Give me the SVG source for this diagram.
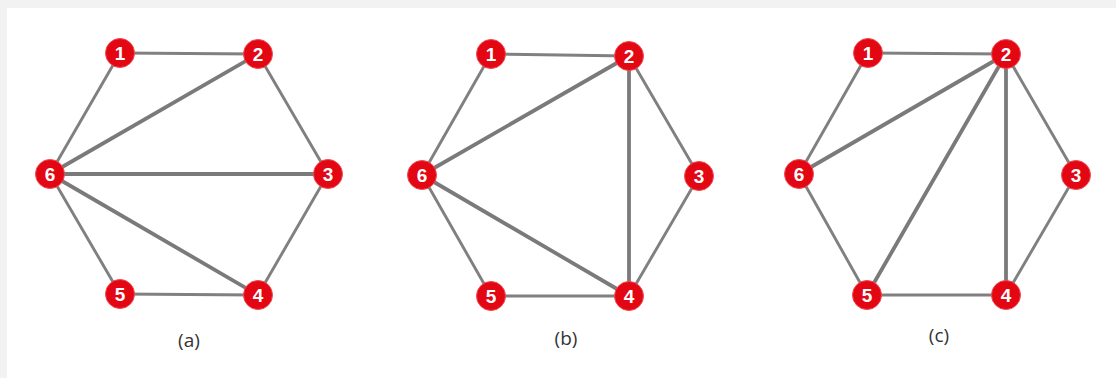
<svg xmlns="http://www.w3.org/2000/svg" width="1116" height="378" viewBox="0 0 1116 378">
<style>
.e{stroke:#808080;stroke-width:2.9;fill:none;stroke-linecap:round}
.d{stroke:#7a7a7a;stroke-width:3.8;fill:none;stroke-linecap:round}
.n circle{fill:#e30613;stroke:#f04a52;stroke-width:1}
.n text{fill:#ffffff;font-family:"Liberation Sans",Arial,sans-serif;font-weight:bold;font-size:19px;text-anchor:middle}
.cap{fill:#333333;font-family:"Open Sans","Liberation Sans",sans-serif;font-size:19px;text-anchor:middle}
</style>
<rect x="0" y="0" width="1116" height="378" fill="#f2f2f2"/>
<rect x="7" y="8" width="1109" height="370" fill="#ffffff"/>
<g id="connectors">
<line class="e" x1="120" y1="53" x2="258" y2="54"/>
<line class="e" x1="258" y1="54" x2="328" y2="174"/>
<line class="e" x1="328" y1="174" x2="258" y2="295"/>
<line class="e" x1="258" y1="295" x2="120" y2="294"/>
<line class="e" x1="120" y1="294" x2="50" y2="174"/>
<line class="e" x1="50" y1="174" x2="120" y2="53"/>
<line class="d" x1="50" y1="174" x2="258" y2="54"/>
<line class="d" x1="50" y1="174" x2="328" y2="174"/>
<line class="d" x1="50" y1="174" x2="258" y2="295"/>
<line class="e" x1="491" y1="54" x2="629" y2="56"/>
<line class="e" x1="629" y1="56" x2="699" y2="176"/>
<line class="e" x1="699" y1="176" x2="629" y2="296"/>
<line class="e" x1="629" y1="296" x2="491" y2="296"/>
<line class="e" x1="491" y1="296" x2="422" y2="175"/>
<line class="e" x1="422" y1="175" x2="491" y2="54"/>
<line class="d" x1="422" y1="175" x2="629" y2="56"/>
<line class="d" x1="422" y1="175" x2="629" y2="296"/>
<line class="d" x1="629" y1="56" x2="629" y2="296"/>
<line class="e" x1="868" y1="53" x2="1006" y2="54"/>
<line class="e" x1="1006" y1="54" x2="1076" y2="175"/>
<line class="e" x1="1076" y1="175" x2="1006" y2="295"/>
<line class="e" x1="1006" y1="295" x2="867" y2="295"/>
<line class="e" x1="867" y1="295" x2="799" y2="174"/>
<line class="e" x1="799" y1="174" x2="868" y2="53"/>
<line class="d" x1="799" y1="174" x2="1006" y2="54"/>
<line class="d" x1="867" y1="295" x2="1006" y2="54"/>
<line class="d" x1="1006" y1="54" x2="1006" y2="295"/>
</g>
<g id="a1" class="n"><circle cx="120" cy="53" r="14.5"/><text x="120" y="60">1</text></g>
<g id="a2" class="n"><circle cx="258" cy="54" r="14.5"/><text x="258" y="61">2</text></g>
<g id="a3" class="n"><circle cx="328" cy="174" r="14.5"/><text x="328" y="181">3</text></g>
<g id="a4" class="n"><circle cx="258" cy="295" r="14.5"/><text x="258" y="302">4</text></g>
<g id="a5" class="n"><circle cx="120" cy="294" r="14.5"/><text x="120" y="301">5</text></g>
<g id="a6" class="n"><circle cx="50" cy="174" r="14.5"/><text x="50" y="181">6</text></g>
<g id="b1" class="n"><circle cx="491" cy="54" r="14.5"/><text x="491" y="61">1</text></g>
<g id="b2" class="n"><circle cx="629" cy="56" r="14.5"/><text x="629" y="63">2</text></g>
<g id="b3" class="n"><circle cx="699" cy="176" r="14.5"/><text x="699" y="183">3</text></g>
<g id="b4" class="n"><circle cx="629" cy="296" r="14.5"/><text x="629" y="303">4</text></g>
<g id="b5" class="n"><circle cx="491" cy="296" r="14.5"/><text x="491" y="303">5</text></g>
<g id="b6" class="n"><circle cx="422" cy="175" r="14.5"/><text x="422" y="182">6</text></g>
<g id="c1" class="n"><circle cx="868" cy="53" r="14.5"/><text x="868" y="60">1</text></g>
<g id="c2" class="n"><circle cx="1006" cy="54" r="14.5"/><text x="1006" y="61">2</text></g>
<g id="c3" class="n"><circle cx="1076" cy="175" r="14.5"/><text x="1076" y="182">3</text></g>
<g id="c4" class="n"><circle cx="1006" cy="295" r="14.5"/><text x="1006" y="302">4</text></g>
<g id="c5" class="n"><circle cx="867" cy="295" r="14.5"/><text x="867" y="302">5</text></g>
<g id="c6" class="n"><circle cx="799" cy="174" r="14.5"/><text x="799" y="181">6</text></g>
<g id="captions">
<text class="cap" x="189" y="347">(a)</text>
<text class="cap" x="566" y="345">(b)</text>
<text class="cap" x="939" y="342">(c)</text>
</g>
</svg>
